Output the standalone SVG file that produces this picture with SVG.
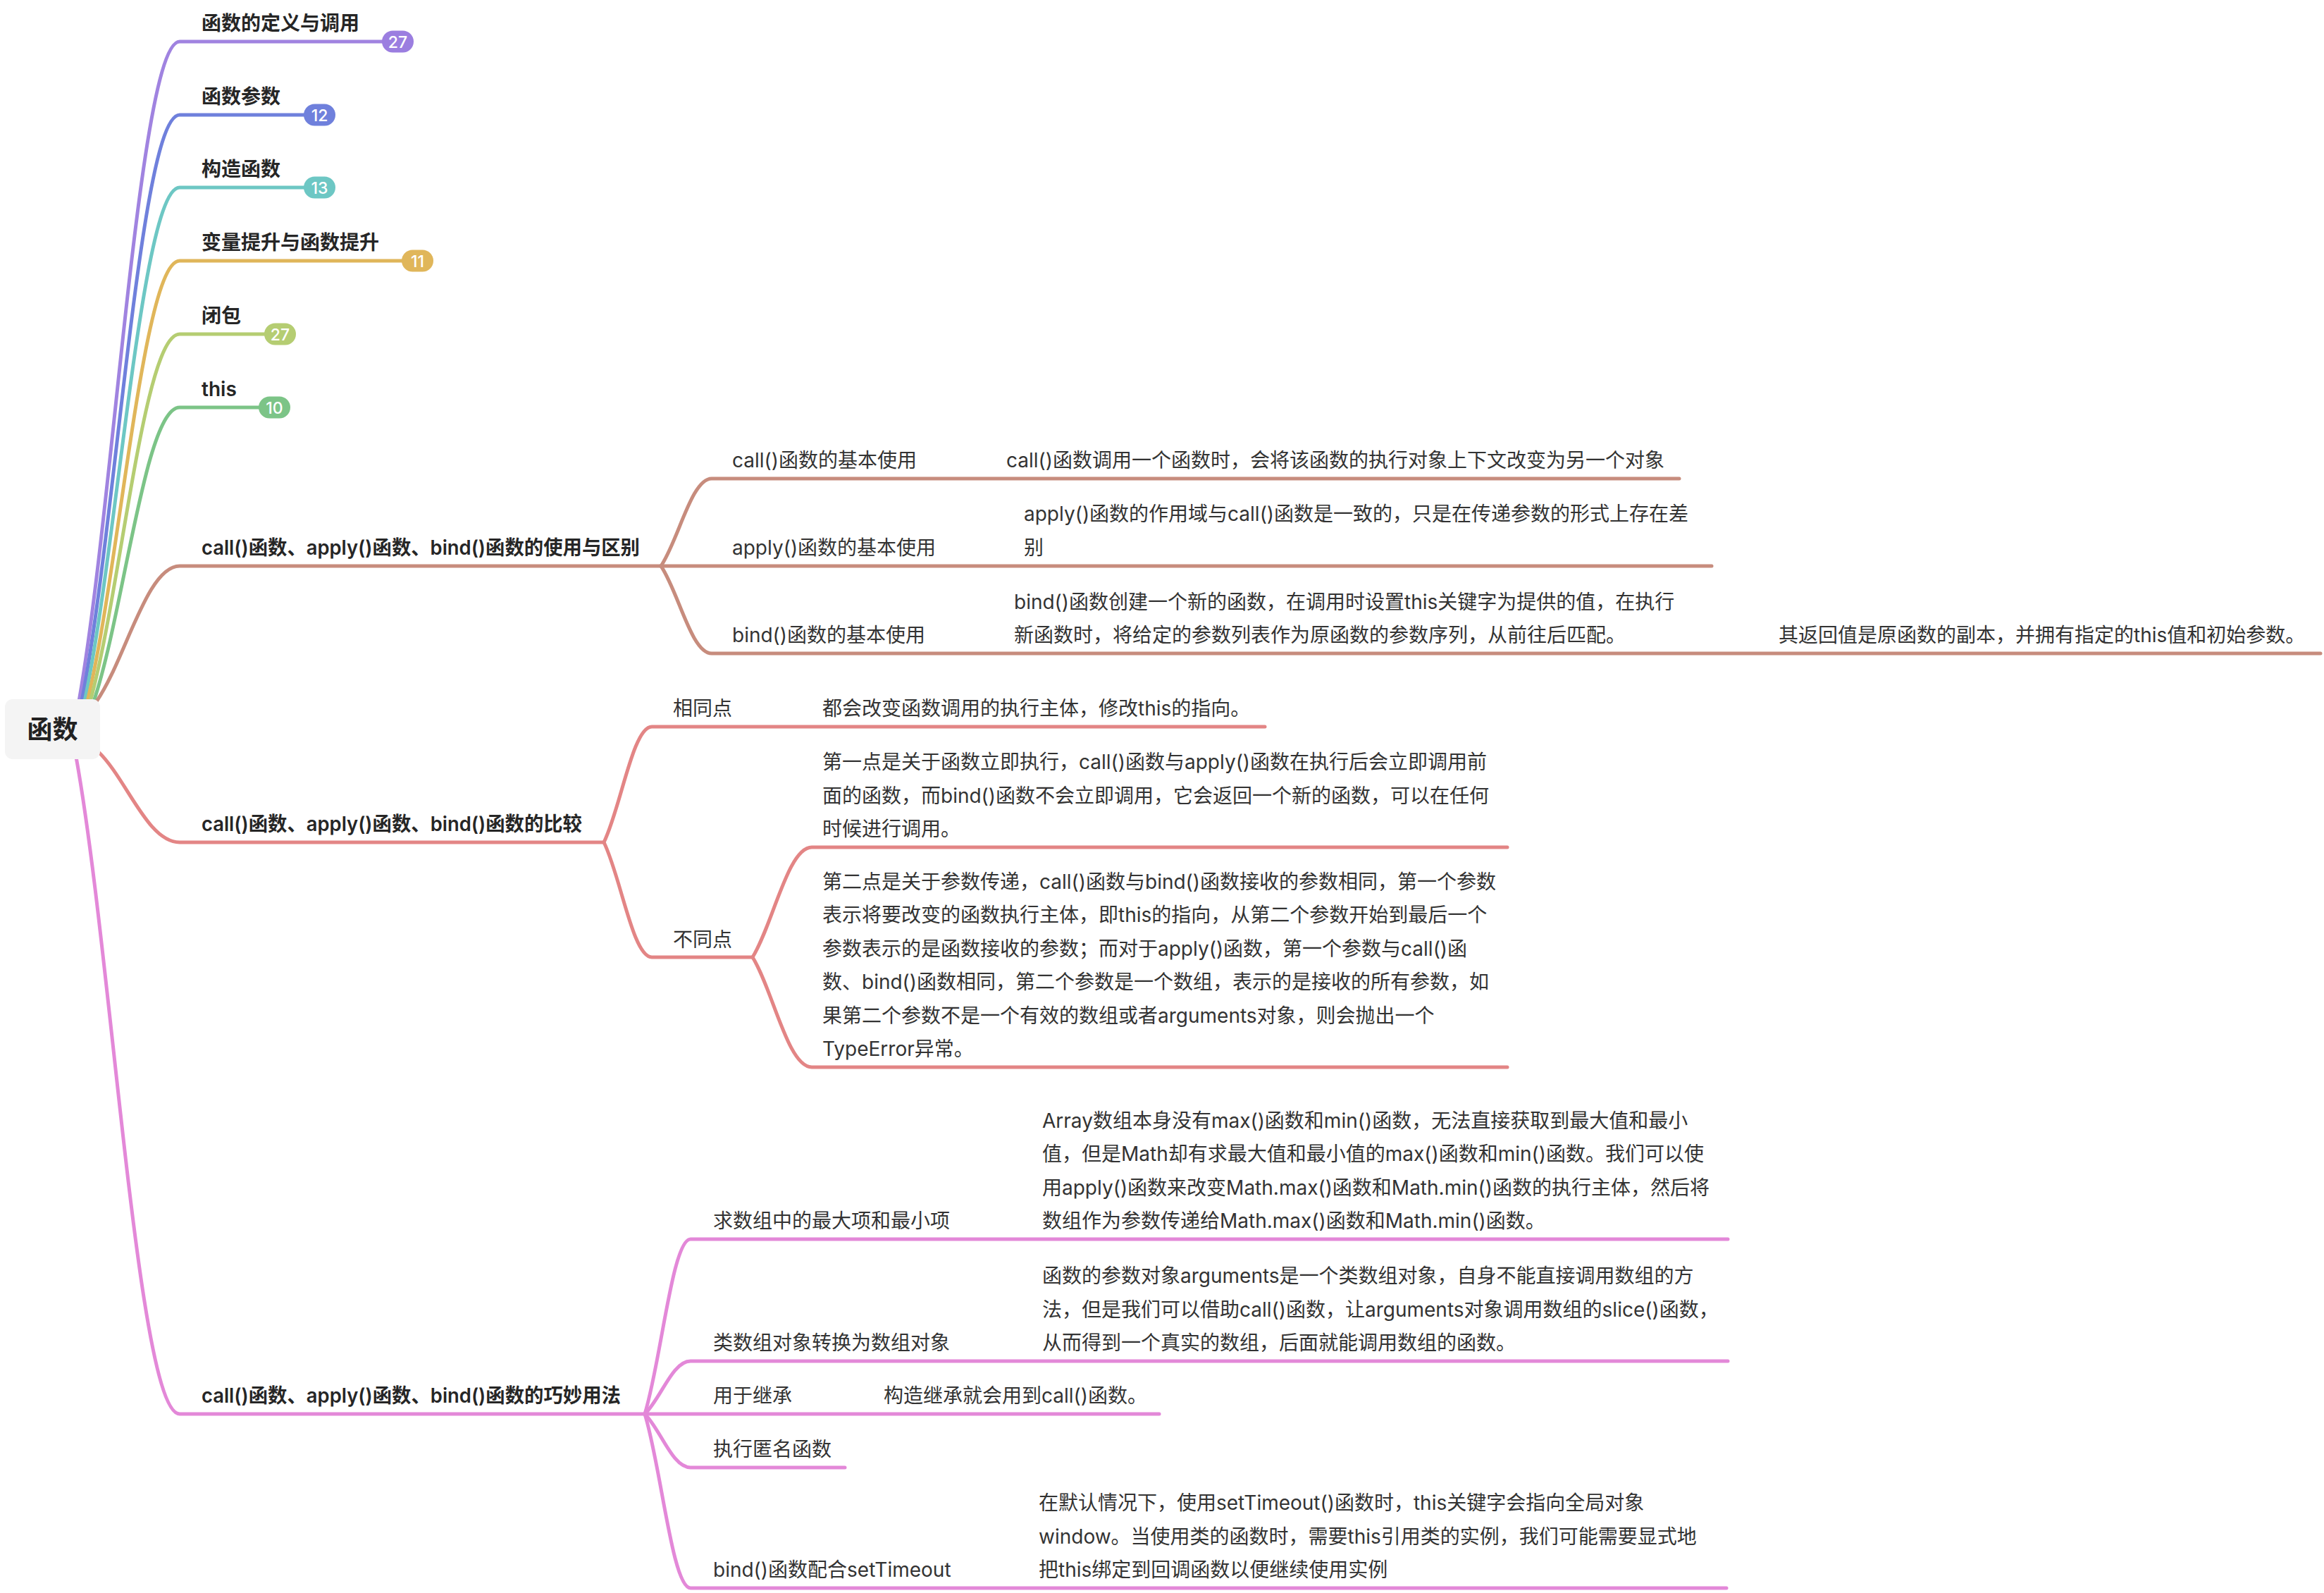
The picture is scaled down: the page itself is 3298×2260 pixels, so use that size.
<svg xmlns="http://www.w3.org/2000/svg" width="3298" height="2260" viewBox="0 0 3298 2260">
<style>
text{font-family:Inter,"Noto Sans CJK SC",sans-serif;font-size:28px;fill:#333333}
.l1{font-weight:600;fill:#262626}
.root{font-size:36px;font-weight:700;fill:#222222}
.bt{font-size:23px;fill:#ffffff;text-anchor:middle;font-weight:500}
.c{fill:none;stroke-width:5;stroke-linecap:round;stroke-linejoin:round}
.pu{stroke:#a083e0}.bl{stroke:#6f80dc}.te{stroke:#6dc7c4}.go{stroke:#e0b65a}.yg{stroke:#b5cd72}.gr{stroke:#7cc487}.br{stroke:#c78c7d}.rd{stroke:#e38585}.pk{stroke:#e388d8}
</style>
<rect width="3298" height="2260" fill="#ffffff"/>
<g id="connectors">
<path class="c pu" d="M112,995 C162,712 198,59 255,59 H560"/>
<path class="c bl" d="M116,995 C165,743 199,163 255,163 H450"/>
<path class="c te" d="M120,995 C167,774 201,266 255,266 H450"/>
<path class="c go" d="M124,995 C170,805 203,370 255,370 H590"/>
<path class="c yg" d="M128,995 C172,837 204,474 255,474 H395"/>
<path class="c gr" d="M133,995 C176,868 206,578 255,578 H390"/>
<path class="c br" d="M137,995 C178,936 208,803 255,803 H938"/>
<path class="c rd" d="M139,1066 C180,1105 209,1195 255,1195 H857"/>
<path class="c pk" d="M108,1074 C159,1356 196,2006 255,2006 H915"/>
<path class="c br" d="M938,803 C963,766 981,679 1010,679 H2383"/>
<path class="c br" d="M938,803 H2429"/>
<path class="c br" d="M938,803 C963,840 981,927 1010,927 H3293"/>
<path class="c rd" d="M857,1195 C881,1146 898,1031 925,1031 H1795"/>
<path class="c rd" d="M857,1195 C881,1244 898,1358 925,1358 H1068"/>
<path class="c rd" d="M1068,1358 C1097,1311 1118,1202 1152,1202 H2139"/>
<path class="c rd" d="M1068,1358 C1097,1405 1118,1514 1152,1514 H2139"/>
<path class="c pk" d="M915,2006 C938,1932 954,1758 980,1758 H2452"/>
<path class="c pk" d="M915,2006 C938,1984 954,1931 980,1931 H2452"/>
<path class="c pk" d="M915,2006 H1645"/>
<path class="c pk" d="M915,2006 C938,2029 954,2082 980,2082 H1199"/>
<path class="c pk" d="M915,2006 C938,2080 954,2253 980,2253 H2450"/>
</g>
<g id="root">
<rect x="7" y="992" width="135" height="85" rx="11" fill="#f4f4f4"/>
<text class="root" x="74.5" y="1048" text-anchor="middle">函数</text>
</g>
<g id="n-def">
<text class="l1" x="286" y="43">函数的定义与调用</text>
<rect x="542" y="43.5" width="45" height="31" rx="15.5" fill="#9b7ee0"/>
<text class="bt" x="564.5" y="67.5">27</text>
</g>
<g id="n-param">
<text class="l1" x="286" y="147">函数参数</text>
<rect x="431" y="147.5" width="45" height="31" rx="15.5" fill="#6f80dc"/>
<text class="bt" x="453.5" y="171.5">12</text>
</g>
<g id="n-ctor">
<text class="l1" x="286" y="250">构造函数</text>
<rect x="431" y="250.5" width="45" height="31" rx="15.5" fill="#6dc7c4"/>
<text class="bt" x="453.5" y="274.5">13</text>
</g>
<g id="n-hoist">
<text class="l1" x="286" y="354">变量提升与函数提升</text>
<rect x="570" y="354.5" width="45" height="31" rx="15.5" fill="#e0b65a"/>
<text class="bt" x="592.5" y="378.5">11</text>
</g>
<g id="n-closure">
<text class="l1" x="286" y="458">闭包</text>
<rect x="375" y="458.5" width="45" height="31" rx="15.5" fill="#b5cd72"/>
<text class="bt" x="397.5" y="482.5">27</text>
</g>
<g id="n-this">
<text class="l1" x="286" y="562">this</text>
<rect x="367" y="562.5" width="45" height="31" rx="15.5" fill="#7cc487"/>
<text class="bt" x="389.5" y="586.5">10</text>
</g>
<g id="n-usage">
<text class="l1" x="286" y="787" textLength="622" lengthAdjust="spacingAndGlyphs">call()函数、apply()函数、bind()函数的使用与区别</text>
</g>
<g id="n-call-basic">
<text x="1039" y="663">call()函数的基本使用</text>
</g>
<g id="n-call-desc">
<text x="1428" y="663">call()函数调用一个函数时，会将该函数的执行对象上下文改变为另一个对象</text>
</g>
<g id="n-apply-basic">
<text x="1039" y="787">apply()函数的基本使用</text>
</g>
<g id="n-apply-desc">
<text x="1453" y="739">apply()函数的作用域与call()函数是一致的，只是在传递参数的形式上存在差</text>
<text x="1453" y="787">别</text>
</g>
<g id="n-bind-basic">
<text x="1039" y="911">bind()函数的基本使用</text>
</g>
<g id="n-bind-desc">
<text x="1439" y="864">bind()函数创建一个新的函数，在调用时设置this关键字为提供的值，在执行</text>
<text x="1439" y="911">新函数时，将给定的参数列表作为原函数的参数序列，从前往后匹配。</text>
</g>
<g id="n-bind-return">
<text x="2524" y="911">其返回值是原函数的副本，并拥有指定的this值和初始参数。</text>
</g>
<g id="n-compare">
<text class="l1" x="286" y="1179" textLength="540" lengthAdjust="spacingAndGlyphs">call()函数、apply()函数、bind()函数的比较</text>
</g>
<g id="n-same">
<text x="955" y="1015">相同点</text>
</g>
<g id="n-same-desc">
<text x="1167" y="1015">都会改变函数调用的执行主体，修改this的指向。</text>
</g>
<g id="n-diff">
<text x="955" y="1343">不同点</text>
</g>
<g id="n-diff-1">
<text x="1167" y="1091">第一点是关于函数立即执行，call()函数与apply()函数在执行后会立即调用前</text>
<text x="1167" y="1138.5">面的函数，而bind()函数不会立即调用，它会返回一个新的函数，可以在任何</text>
<text x="1167" y="1186">时候进行调用。</text>
</g>
<g id="n-diff-2">
<text x="1167" y="1260.5">第二点是关于参数传递，call()函数与bind()函数接收的参数相同，第一个参数</text>
<text x="1167" y="1308">表示将要改变的函数执行主体，即this的指向，从第二个参数开始到最后一个</text>
<text x="1167" y="1355.5">参数表示的是函数接收的参数；而对于apply()函数，第一个参数与call()函</text>
<text x="1167" y="1403">数、bind()函数相同，第二个参数是一个数组，表示的是接收的所有参数，如</text>
<text x="1167" y="1450.5">果第二个参数不是一个有效的数组或者arguments对象，则会抛出一个</text>
<text x="1167" y="1498">TypeError异常。</text>
</g>
<g id="n-tricks">
<text class="l1" x="286" y="1990" textLength="595" lengthAdjust="spacingAndGlyphs">call()函数、apply()函数、bind()函数的巧妙用法</text>
</g>
<g id="n-maxmin">
<text x="1012" y="1742">求数组中的最大项和最小项</text>
</g>
<g id="n-maxmin-desc">
<text x="1479" y="1599.5">Array数组本身没有max()函数和min()函数，无法直接获取到最大值和最小</text>
<text x="1479" y="1647">值，但是Math却有求最大值和最小值的max()函数和min()函数。我们可以使</text>
<text x="1479" y="1694.5">用apply()函数来改变Math.max()函数和Math.min()函数的执行主体，然后将</text>
<text x="1479" y="1742">数组作为参数传递给Math.max()函数和Math.min()函数。</text>
</g>
<g id="n-arraylike">
<text x="1012" y="1915">类数组对象转换为数组对象</text>
</g>
<g id="n-arraylike-desc">
<text x="1479" y="1820">函数的参数对象arguments是一个类数组对象，自身不能直接调用数组的方</text>
<text x="1479" y="1867.5">法，但是我们可以借助call()函数，让arguments对象调用数组的slice()函数，</text>
<text x="1479" y="1915">从而得到一个真实的数组，后面就能调用数组的函数。</text>
</g>
<g id="n-inherit">
<text x="1012" y="1990">用于继承</text>
</g>
<g id="n-inherit-desc">
<text x="1254" y="1990">构造继承就会用到call()函数。</text>
</g>
<g id="n-anon">
<text x="1012" y="2066">执行匿名函数</text>
</g>
<g id="n-timeout">
<text x="1012" y="2237">bind()函数配合setTimeout</text>
</g>
<g id="n-timeout-desc">
<text x="1474" y="2142">在默认情况下，使用setTimeout()函数时，this关键字会指向全局对象</text>
<text x="1474" y="2189.5">window。当使用类的函数时，需要this引用类的实例，我们可能需要显式地</text>
<text x="1474" y="2237">把this绑定到回调函数以便继续使用实例</text>
</g>
</svg>
